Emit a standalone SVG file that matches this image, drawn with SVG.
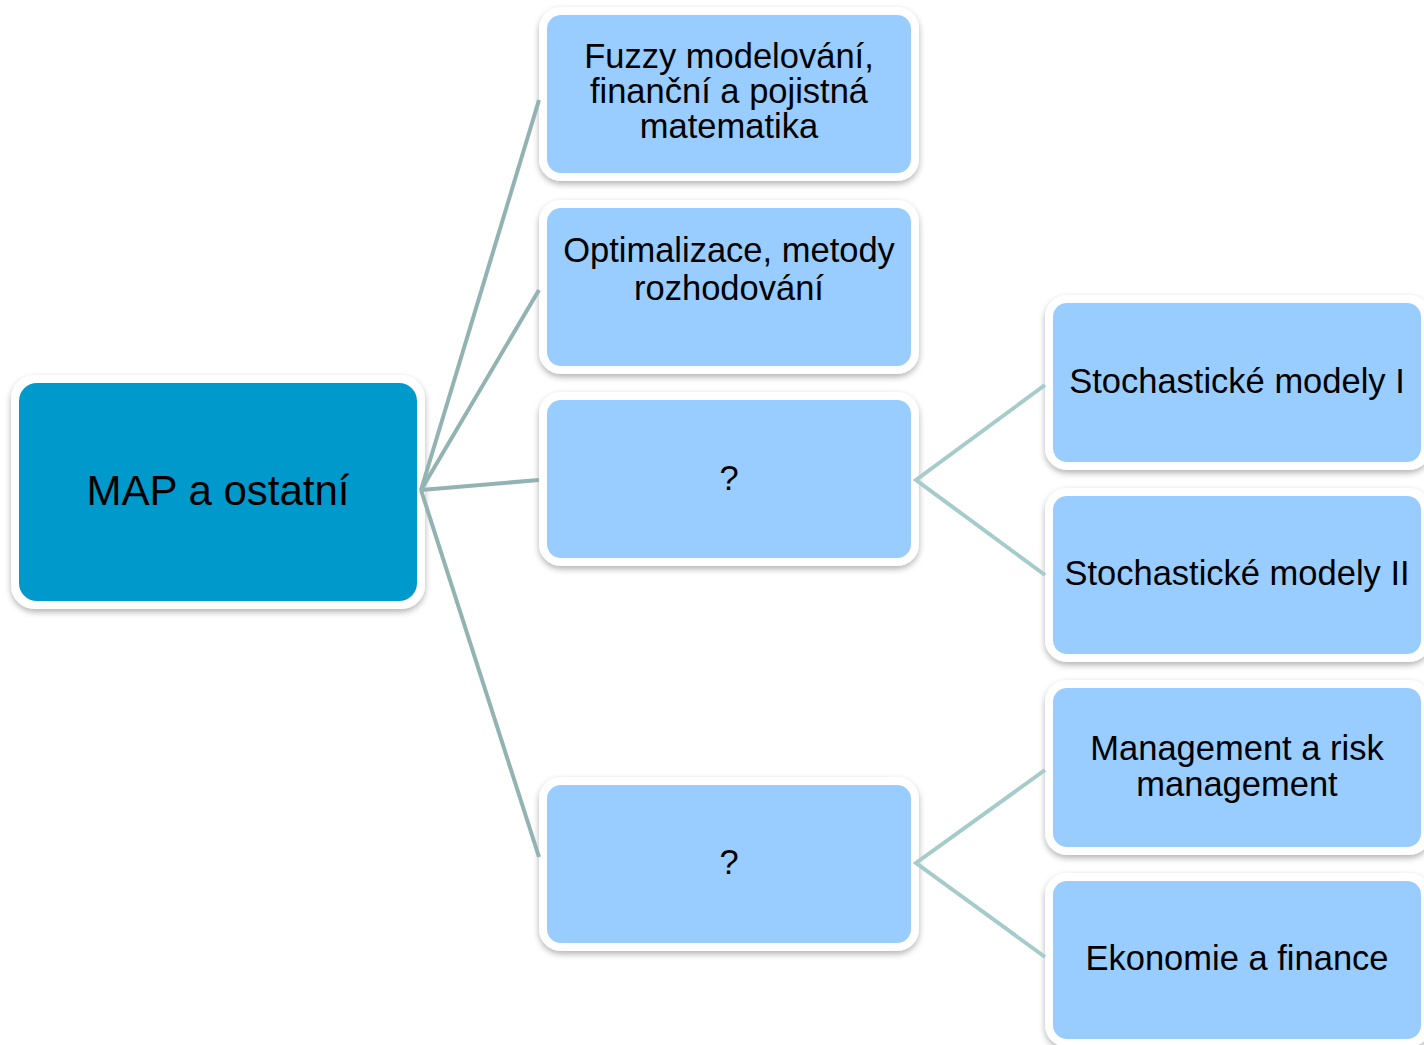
<svg xmlns="http://www.w3.org/2000/svg" width="1424" height="1045" viewBox="0 0 1424 1045">
<defs>
<filter id="sh" x="-10%" y="-10%" width="120%" height="130%">
<feDropShadow dx="0" dy="3" stdDeviation="3" flood-color="#000" flood-opacity="0.3"/>
</filter>
<style>
.frame{fill:#ffffff;filter:url(#sh)}
.root{fill:#0099cc}
.box{fill:#99ccff}
.t{font-family:"Liberation Sans",Arial,sans-serif;fill:#000;text-anchor:middle}
.t34{font-size:34.5px}
.t41{font-size:42px}
.c1{stroke:#93b3b3;stroke-width:4;fill:none}
.c2{stroke:#a6cbcb;stroke-width:4;fill:none}
</style>
</defs>
<rect width="1424" height="1045" fill="#ffffff"/>
<g id="root">
<rect class="frame" x="11" y="375" width="414" height="234" rx="24"/>
<rect class="root" x="19" y="383" width="398" height="218" rx="18"/>
<text class="t t41" x="218" y="505">MAP a ostatní</text>
</g>
<g id="n1">
<rect class="frame" x="539" y="7" width="380" height="174" rx="22"/>
<rect class="box" x="547" y="15" width="364" height="158" rx="14"/>
<text class="t t34" x="729" y="68">Fuzzy modelování,</text>
<text class="t t34" x="729" y="103">finanční a pojistná</text>
<text class="t t34" x="729" y="138">matematika</text>
</g>
<g id="n2">
<rect class="frame" x="539" y="200" width="380" height="174" rx="22"/>
<rect class="box" x="547" y="208" width="364" height="158" rx="14"/>
<text class="t t34" x="729" y="262">Optimalizace, metody</text>
<text class="t t34" x="729" y="300">rozhodování</text>
</g>
<g id="n3">
<rect class="frame" x="539" y="392" width="380" height="174" rx="22"/>
<rect class="box" x="547" y="400" width="364" height="158" rx="14"/>
<text class="t t34" x="729" y="490">?</text>
</g>
<g id="n4">
<rect class="frame" x="539" y="777" width="380" height="174" rx="22"/>
<rect class="box" x="547" y="785" width="364" height="158" rx="14"/>
<text class="t t34" x="729" y="874">?</text>
</g>
<g id="n5">
<rect class="frame" x="1045" y="295" width="386" height="175" rx="22"/>
<rect class="box" x="1053" y="303" width="368" height="159" rx="14"/>
<text class="t t34" x="1237" y="393">Stochastické modely I</text>
</g>
<g id="n6">
<rect class="frame" x="1045" y="488" width="386" height="174" rx="22"/>
<rect class="box" x="1053" y="496" width="368" height="158" rx="14"/>
<text class="t t34" x="1237" y="585">Stochastické modely II</text>
</g>
<g id="n7">
<rect class="frame" x="1045" y="680" width="386" height="175" rx="22"/>
<rect class="box" x="1053" y="688" width="368" height="159" rx="14"/>
<text class="t t34" x="1237" y="760">Management a risk</text>
<text class="t t34" x="1237" y="796">management</text>
</g>
<g id="n8">
<rect class="frame" x="1045" y="873" width="386" height="174" rx="22"/>
<rect class="box" x="1053" y="881" width="368" height="158" rx="14"/>
<text class="t t34" x="1237" y="970">Ekonomie a finance</text>
</g>
<g id="connectors">
<path class="c1" d="M421 490 L539 100"/>
<path class="c1" d="M421 490 L539 290"/>
<path class="c1" d="M421 490 L539 480"/>
<path class="c1" d="M421 490 L539 857"/>
<path class="c2" d="M1045 385 L916 480 L1045 575"/>
<path class="c2" d="M1045 770 L916 863 L1045 957"/>
</g>
</svg>
